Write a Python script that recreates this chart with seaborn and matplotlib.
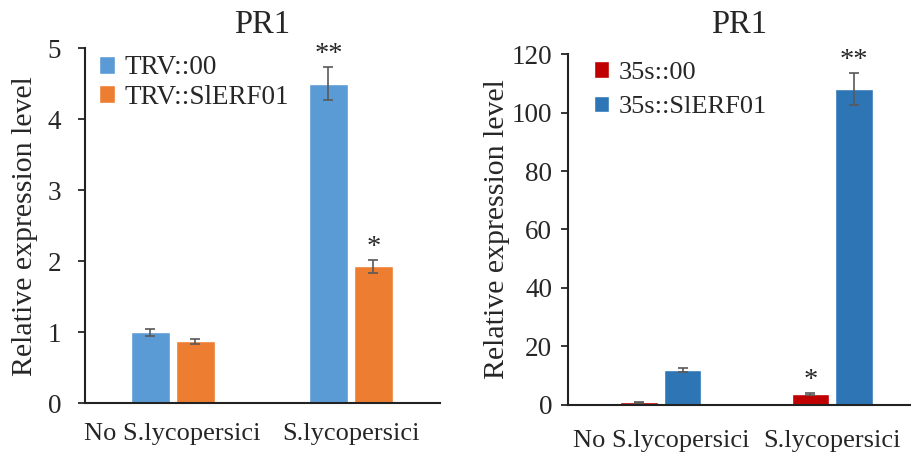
import numpy as np
import pandas as pd
import matplotlib
matplotlib.use("Agg")
import matplotlib.pyplot as plt
import seaborn as sns

# data
conditions = ["No S.lycopersici", "S.lycopersici"]

left_groups = ["TRV::00", "TRV::SlERF01"]
left_means = {"TRV::00": [1.0, 4.5], "TRV::SlERF01": [0.87, 1.93]}
left_errs = {"TRV::00": [0.05, 0.23], "TRV::SlERF01": [0.04, 0.09]}
left_stars = {"TRV::00": ["", "**"], "TRV::SlERF01": ["", "*"]}

right_groups = ["35s::00", "35s::SlERF01"]
right_means = {"35s::00": [0.9, 3.8], "35s::SlERF01": [12.0, 108.0]}
right_errs = {"35s::00": [0.15, 0.3], "35s::SlERF01": [0.8, 5.4]}
right_stars = {"35s::00": ["", "*"], "35s::SlERF01": ["", "**"]}

sns.set_style("white")
plt.rcParams['font.family'] = ['Liberation Serif', 'DejaVu Serif']


def make_df(groups, means, errs, stars):
    rows = []
    for g in groups:
        for i, c in enumerate(conditions):
            rows.append({'Condition': c, 'Line': g, 'value': means[g][i],
                         'err': errs[g][i], 'star': stars[g][i]})
    return pd.DataFrame(rows)


def panel(ax, df, groups, colors, ylim, yticks, xlim, opts):
    sns.barplot(data=df, x='Condition', y='value', hue='Line', hue_order=groups,
                order=conditions, palette=colors, width=0.506, gap=0.134,
                errorbar=None, saturation=1, ax=ax)
    # error bars + stars, positioned from the drawn patches
    bars = list(ax.patches)
    k = 0
    for g in groups:
        for c in conditions:
            row = df[(df.Line == g) & (df.Condition == c)].iloc[0]
            p = bars[k]
            k += 1
            xc = p.get_x() + p.get_width() / 2
            ax.errorbar(xc, row['value'], yerr=row['err'], color='#595959',
                        capsize=3.5, elinewidth=1.2, capthick=1.2, zorder=3)
            if row['star']:
                ax.annotate(row['star'], (xc, row['value'] + row['err']),
                            xytext=(0, 0), textcoords='offset points',
                            ha='center', va='bottom', fontsize=20.5)
    ax.set_ylim(*ylim)
    ax.set_yticks(yticks)
    ax.set_xlim(*xlim)
    ax.set_title('PR1', fontsize=23.5, pad=opts['tpad'])
    ax.set_ylabel('Relative expression level', fontsize=21.5, labelpad=opts['lpad'])
    ax.set_xlabel('')
    ax.tick_params(axis='y', labelsize=19.5, length=5, width=1.3, left=True,
                   direction='out', pad=opts['ypad'])
    ax.tick_params(axis='x', labelsize=19, length=0, pad=opts['xpad'])
    sns.despine(ax=ax)
    for s in ['left', 'bottom']:
        ax.spines[s].set_linewidth(1.5)
        ax.spines[s].set_color('#222222')
    ax.legend(loc='upper left', bbox_to_anchor=opts['leg'], frameon=False,
              fontsize=opts['lfs'], handlelength=0.6, handleheight=0.6,
              handletextpad=0.35, labelspacing=opts['lsp'], borderaxespad=0.2)


fig = plt.figure(figsize=(9.11, 4.54), dpi=100)
ax1 = fig.add_axes([0.093, 0.112, 0.390, 0.782])
ax2 = fig.add_axes([0.623, 0.108, 0.376, 0.773])

panel(ax1, make_df(left_groups, left_means, left_errs, left_stars), left_groups,
      ['#5B9BD5', '#ED7D31'], (0, 5), range(0, 6), (-0.494, 1.5),
      dict(tpad=11, lpad=7, ypad=12, xpad=14, leg=(-0.006, 1.025), lfs=19.5, lsp=0.15))
panel(ax2, make_df(right_groups, right_means, right_errs, right_stars), right_groups,
      ['#C00000', '#2E75B6'], (0, 120), range(0, 121, 20), (-0.545, 1.455),
      dict(tpad=15, lpad=1, ypad=6, xpad=18, leg=(0.03, 1.025), lfs=19, lsp=0.45))

fig.savefig('out.png', dpi=100)
